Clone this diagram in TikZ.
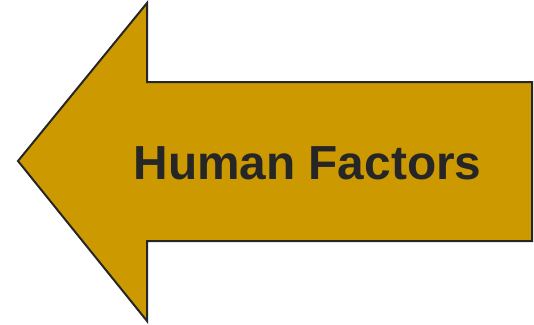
\documentclass[tikz,border=0pt]{standalone}
\usepackage{fontspec}
\setmainfont{Liberation Sans}
\usepackage{xcolor}
\definecolor{gold}{HTML}{CC9900}
\definecolor{ink}{HTML}{262626}

\begin{document}
\begin{tikzpicture}[x=1pt, y=-1pt]

    % Frame of the picture, in pixels of the reference
    \useasboundingbox (0,0) rectangle (534,324);

    % Head and shaft of the arrow
    \def\tip{18}
    \def\neck{147}
    \def\tail{532}

    % The arrow, traversed from its tip
    \filldraw[fill=gold, draw=ink, line width=2pt, line join=miter]
        (\tip,161) -- (\neck,3) -- (\neck,82) -- (\tail,82)
        -- (\tail,241) -- (\neck,241) -- (\neck,321) -- cycle;

    % Label
    \node[ink, font=\bfseries\fontsize{47.8}{47.8}\selectfont] (label)
        at (307.5,163) {Human Factors};

\end{tikzpicture}
\end{document}
